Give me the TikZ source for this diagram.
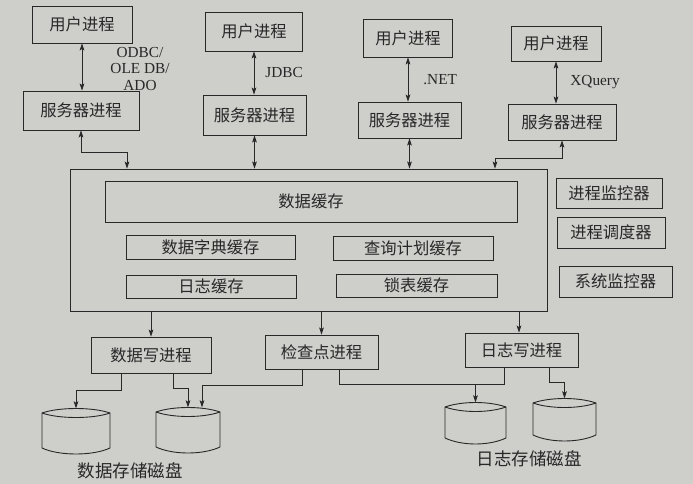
\documentclass[tikz,border=0pt]{standalone}
\usepackage{fontspec}
\setmainfont{Liberation Serif}
\newfontfamily\cjk{Noto Sans CJK SC}
\usetikzlibrary{arrows.meta,fit}
\definecolor{paper}{RGB}{206,206,203}
\definecolor{ink}{RGB}{40,40,40}
\tikzset{
  box/.style={draw=ink, line width=0.9pt, rectangle, inner sep=0pt, text=ink,
    font=\cjk\fontsize{16.3}{19}\selectfont},
  conn/.style={draw=ink, line width=0.8pt},
  tip/.style={conn, -{Stealth[length=7pt,width=4.6pt,inset=1.5pt]}},
  dtip/.style={conn, {Stealth[length=7pt,width=4.6pt,inset=1.5pt]}-{Stealth[length=7pt,width=4.6pt,inset=1.5pt]}},
  lab/.style={font=\fontsize{15.3}{16.8}\selectfont, text=ink, align=center, inner sep=1pt},
  disklab/.style={font=\cjk\fontsize{17.5}{20}\selectfont, text=ink},
}
\newcommand{\diskshape}[5]{%
  \node[fit={(#2,#3-4.5) (#4,#5+6)}, inner sep=0pt] (#1) {};
  \draw[ink, line width=0.9pt] (#2,#3) .. controls (#2+17,#3-6) and (#4-17,#3-6) .. (#4,#3)
     -- (#4,#5) .. controls (#4-17,#5+8) and (#2+17,#5+8) .. (#2,#5) -- cycle;
  \draw[ink, line width=0.9pt] (#2,#3) .. controls (#2+17,#3+6) and (#4-17,#3+6) .. (#4,#3);
}
\begin{document}
\begin{tikzpicture}[x=1pt,y=-1pt]
\fill[paper] (0,0) rectangle (693,484);
\useasboundingbox (0,0) rectangle (693,484);

% user processes
\node[box, minimum width=100pt, minimum height=37pt] (u1) at (82,24.5) {用户进程};
\node[box, minimum width=97pt, minimum height=39pt] (u2) at (254,31.5) {用户进程};
\node[box, minimum width=89pt, minimum height=38pt] (u3) at (408,38) {用户进程};
\node[box, minimum width=90pt, minimum height=35pt] (u4) at (556,43.5) {用户进程};

% server processes
\node[box, minimum width=116pt, minimum height=39pt] (s1) at (81,110.5) {服务器进程};
\node[box, minimum width=103pt, minimum height=40pt] (s2) at (254.5,115) {服务器进程};
\node[box, minimum width=103pt, minimum height=36pt] (s3) at (409.5,120) {服务器进程};
\node[box, minimum width=108pt, minimum height=36pt] (s4) at (562,122) {服务器进程};

% main memory box
\node[box, minimum width=477pt, minimum height=142pt] (main) at (308.5,240) {};
\node[box, minimum width=412pt, minimum height=41pt] (cache) at (311,201.5) {数据缓存};
\node[box, minimum width=169pt, minimum height=24pt] (dict) at (210.5,247) {数据字典缓存};
\node[box, minimum width=160pt, minimum height=24pt] (plan) at (413,248) {查询计划缓存};
\node[box, minimum width=170pt, minimum height=23pt] (logc) at (211,286.5) {日志缓存};
\node[box, minimum width=161pt, minimum height=23pt] (lock) at (416.5,285.5) {锁表缓存};

% side boxes
\node[box, minimum width=106pt, minimum height=30pt] (pm) at (609,193) {进程监控器};
\node[box, minimum width=108pt, minimum height=31pt] (ps) at (611,232.5) {进程调度器};
\node[box, minimum width=113pt, minimum height=31pt] (sm) at (615.5,281.5) {系统监控器};

% background processes
\node[box, minimum width=120pt, minimum height=36pt] (dw) at (151,355) {数据写进程};
\node[box, minimum width=113pt, minimum height=34pt] (cp) at (321.5,352) {检查点进程};
\node[box, minimum width=113pt, minimum height=34pt] (lw) at (521.5,350) {日志写进程};

% disks
\diskshape{d1}{42}{413}{110}{448}
\diskshape{d2}{156}{412}{220}{447}
\diskshape{d3}{445}{407}{506}{438}
\diskshape{d4}{533}{403}{596}{435}

\node[disklab] (dl1) at (130,471) {数据存储磁盘};
\node[disklab] (dl2) at (529,459) {日志存储磁盘};

% user <-> server
\draw[dtip] (u1.south) -- (u1.south |- s1.north);
\node[lab] (api1) at (140,69) {ODBC/\\OLE DB/\\ADO};
\draw[dtip] (u2.south) -- node[lab, right, xshift=10pt] (api2) {JDBC} (u2.south |- s2.north);
\draw[dtip] (u3.south) -- node[lab, right, xshift=14pt] (api3) {.NET} (u3.south |- s3.north);
\draw[dtip] (u4.south) -- node[lab, right, xshift=13pt] (api4) {XQuery} (u4.south |- s4.north);

% server <-> main
\coordinate (j1) at (127,152);
\coordinate (j4) at (495,158);
\draw[dtip] (s1.south) |- (j1) -- (j1 |- main.north);
\draw[dtip] (s2.south) -- (s2.south |- main.north);
\draw[dtip] (s3.south) -- (s3.south |- main.north);
\draw[dtip] (s4.south) |- (j4) -- (j4 |- main.north);

% main -> background processes
\draw[tip] (dw.north |- main.south) -- (dw.north);
\draw[tip] (cp.north |- main.south) -- (cp.north);
\draw[tip] ([xshift=-2.5pt]lw.north |- main.south) -- ([xshift=-2.5pt]lw.north);

% background processes -> disks
\draw[tip] ([xshift=-30pt]dw.south) -- ++(0,17) -| (d1.north);
\draw[tip] ([xshift=22pt]dw.south) -- ++(0,15) -| (d2.north);
\draw[tip] ([xshift=-19.5pt]cp.south) -- ++(0,16) -| ([xshift=14pt]d2.north);
\coordinate (j3) at (475.5,384);
\draw[conn] ([xshift=17.5pt]cp.south) |- (j3);
\draw[tip] ([xshift=-17.5pt]lw.south) |- (j3) -- (d3.north);
\draw[tip] ([xshift=27.5pt]lw.south) -- ++(0,15) -| (d4.north);
\end{tikzpicture}
\end{document}
